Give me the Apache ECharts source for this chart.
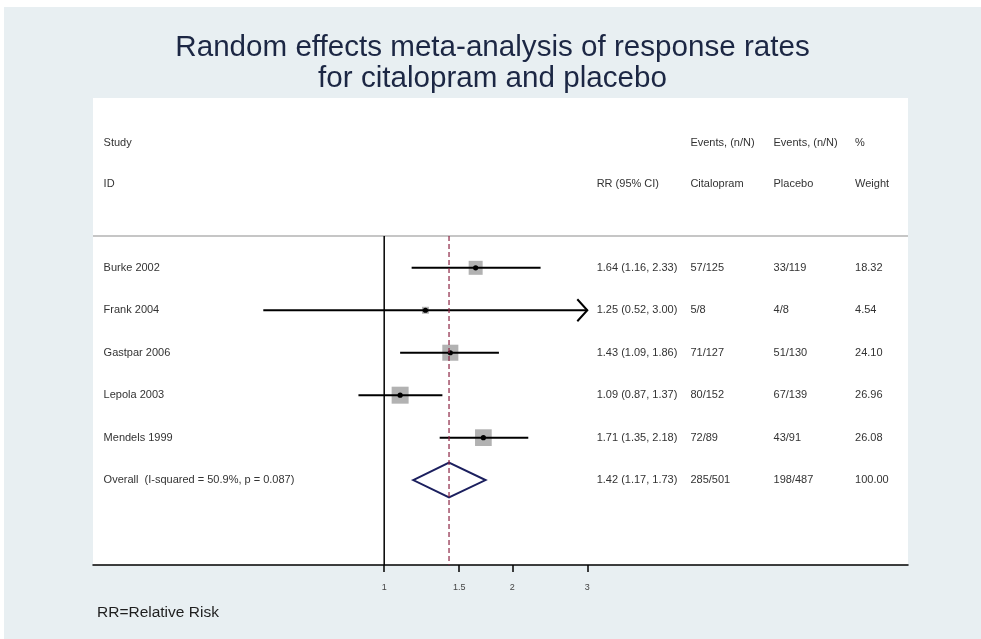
<!DOCTYPE html>
<html><head><meta charset="utf-8">
<script src="https://cdn.jsdelivr.net/npm/echarts@6/dist/echarts.min.js"></script>
<style>
html,body{margin:0;padding:0;background:#ffffff;}
#c{position:absolute;left:4px;top:7px;width:977px;height:632px;}
</style>
</head><body><div id="c"></div>
<script>
// ---- data ----
const studies = ['Burke 2002', 'Frank 2004', 'Gastpar 2006', 'Lepola 2003', 'Mendels 1999'];
const rr = [1.64, 1.25, 1.43, 1.09, 1.71];
const lower = [1.16, 0.52, 1.09, 0.87, 1.35];
const upper = [2.33, 3.00, 1.86, 1.37, 2.18];
const citEvents = ['57/125', '5/8', '71/127', '80/152', '72/89'];
const placEvents = ['33/119', '4/8', '51/130', '67/139', '43/91'];
const weights = [18.32, 4.54, 24.10, 26.96, 26.08];
const overallLabel = 'Overall  (I-squared = 50.9%, p = 0.087)';
const overallRR = 1.42, overallLower = 1.17, overallUpper = 1.73;
const overallCit = '285/501', overallPlac = '198/487', overallWeight = 100.00;
const headerTop = ['Study', '', 'Events, (n/N)', 'Events, (n/N)', '%'];
const headerBottom = ['ID', 'RR (95% CI)', 'Citalopram', 'Placebo', 'Weight'];
const tickValues = [1, 1.5, 2, 3];
const tickLabels = ['1', '1.5', '2', '3'];
const nullValue = 1;
const arrowLimit = 3;

// ---- layout ----
const FONT = "'Liberation Sans', Arial, sans-serif";
const colX = [1.3, 61.8, 73.3, 83.5, 93.5]; // percent of plot width
const headerRows = [-2.95, -1.98];
const sepRow = -0.75;
const SQ = 3.27;

const fmt = v => v.toFixed(2);
const textItems = [];
headerTop.forEach((t, c) => { if (t) textItems.push({x: colX[c], row: headerRows[0], text: t}); });
headerBottom.forEach((t, c) => { if (t) textItems.push({x: colX[c], row: headerRows[1], text: t}); });
studies.forEach((s, i) => {
  const cols = [s, fmt(rr[i]) + ' (' + fmt(lower[i]) + ', ' + fmt(upper[i]) + ')', citEvents[i], placEvents[i], fmt(weights[i])];
  cols.forEach((t, c) => textItems.push({x: colX[c], row: i, text: t}));
});
const oRow = studies.length;
[overallLabel, fmt(overallRR) + ' (' + fmt(overallLower) + ', ' + fmt(overallUpper) + ')', overallCit, overallPlac, fmt(overallWeight)]
  .forEach((t, c) => textItems.push({x: colX[c], row: oRow, text: t}));

const chart = echarts.init(document.getElementById('c'));
chart.setOption({
  backgroundColor: '#e8eff2',
  animation: false,
  title: [
    {text: 'Random effects meta-analysis of response rates', left: 'center', top: 25, padding: 0,
     textStyle: {fontFamily: FONT, fontSize: 29.6, fontWeight: 'normal', color: '#1c2744', lineHeight: 31}},
    {text: 'for citalopram and placebo', left: 'center', top: 56, padding: 0,
     textStyle: {fontFamily: FONT, fontSize: 29.6, fontWeight: 'normal', color: '#1c2744', lineHeight: 31}}
  ],
  graphic: [{type: 'text', left: 93, top: 598,
    style: {text: 'RR=Relative Risk', fontFamily: FONT, fontSize: 15.5, fill: '#1e1e1e'}}],
  grid: {left: 89, right: 73, top: 91, bottom: 74, show: true, backgroundColor: '#ffffff', borderWidth: 0},
  xAxis: [
    {type: 'log', min: 0.207, max: 17.0, position: 'bottom',
     axisLine: {show: true, onZero: false, lineStyle: {color: '#000', width: 1.5}},
     axisTick: {show: true, customValues: tickValues, length: 7, lineStyle: {color: '#000', width: 1.5}},
     axisLabel: {show: true, customValues: tickValues, margin: 18, fontSize: 9, color: '#444', fontFamily: FONT,
       formatter: v => { let k = 0; tickValues.forEach((t, j) => { if (Math.abs(t - v) < Math.abs(tickValues[k] - v)) k = j; }); return tickLabels[k]; }},
     splitLine: {show: false}, minorTick: {show: false}},
    {type: 'value', min: 0, max: 100, show: false}
  ],
  yAxis: {type: 'value', inverse: true, min: -4, max: 7, show: false},
  series: [
    {type: 'line', xAxisIndex: 1, data: [[0, sepRow], [100, sepRow]], showSymbol: false, silent: true,
     lineStyle: {color: '#c6c6c6', width: 2}},
    {type: 'line', data: [[nullValue, sepRow], [nullValue, 7]], showSymbol: false, silent: true,
     lineStyle: {color: '#000', width: 1.5}},
    {type: 'line', data: [[overallRR, sepRow], [overallRR, 7]], showSymbol: false, silent: true,
     lineStyle: {color: '#8b2342', width: 1.2, type: [5, 3]}},
    {type: 'custom', silent: true,
     data: studies.map((s, i) => [rr[i], i, lower[i], upper[i], weights[i]]),
     encode: {x: [0, 2, 3], y: 1},
     renderItem: (params, api) => {
       const y = api.value(1);
       const c = api.coord([api.value(0), y]);
       const l = api.coord([api.value(2), y]);
       const h = api.coord([api.value(3), y]);
       const side = SQ * Math.sqrt(api.value(4));
       const children = [
         {type: 'rect', shape: {x: c[0] - side / 2, y: c[1] - side / 2, width: side, height: side}, style: {fill: '#b2b2b2'}},
         {type: 'line', shape: {x1: l[0], y1: l[1], x2: h[0], y2: h[1]}, style: {stroke: '#000', lineWidth: 2}},
         {type: 'circle', shape: {cx: c[0], cy: c[1], r: 2.6}, style: {fill: '#000'}}
       ];
       if (api.value(3) >= arrowLimit) {
         children.push({type: 'polyline', shape: {points: [[h[0] - 10, h[1] - 11], [h[0], h[1]], [h[0] - 10, h[1] + 11]]},
           style: {stroke: '#000', lineWidth: 2, fill: null}});
       }
       return {type: 'group', children};
     }},
    {type: 'custom', silent: true,
     data: [[overallRR, oRow, overallLower, overallUpper]],
     encode: {x: [0, 2, 3], y: 1},
     renderItem: (params, api) => {
       const y = api.value(1);
       const pts = [
         api.coord([api.value(2), y]), api.coord([api.value(0), y - 0.41]),
         api.coord([api.value(3), y]), api.coord([api.value(0), y + 0.41])
       ];
       return {type: 'polygon', shape: {points: pts}, style: {stroke: '#1b1f5e', lineWidth: 2, fill: null}};
     }},
    {type: 'custom', silent: true, xAxisIndex: 1,
     data: textItems.map(t => [t.x, t.row]),
     encode: {x: 0, y: 1},
     renderItem: (params, api) => {
       const p = api.coord([api.value(0), api.value(1)]);
       return {type: 'text', x: p[0], y: p[1],
         style: {text: textItems[params.dataIndex].text, fontFamily: FONT, fontSize: 11, fill: '#333',
                 align: 'left', verticalAlign: 'middle'}};
     }}
  ]
});
</script>
</body></html>
